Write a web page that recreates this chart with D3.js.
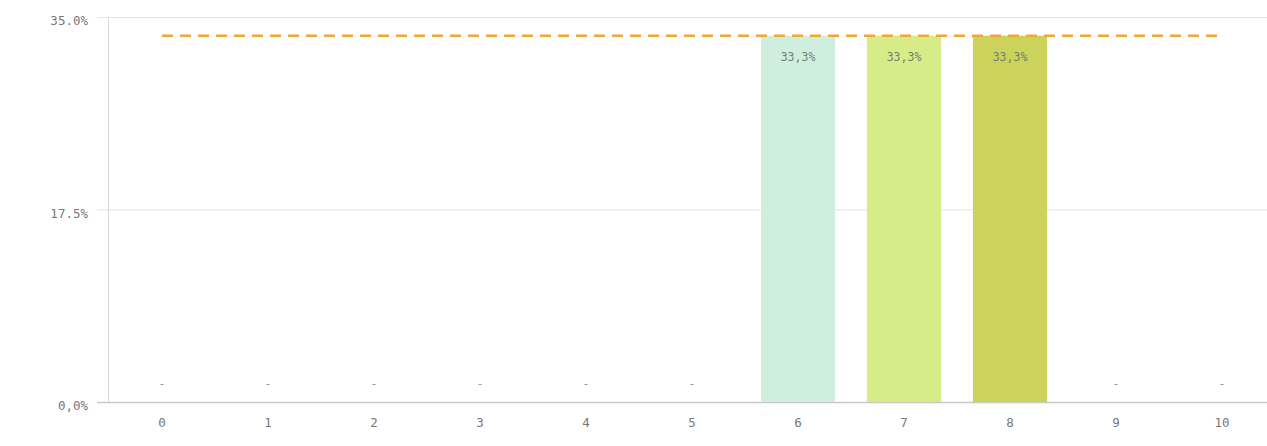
<!DOCTYPE html>
<html><head><meta charset="utf-8">
<script src="https://cdn.jsdelivr.net/npm/d3@7"></script>
<style>body{margin:0;background:#fff}svg{display:block}</style>
</head><body>
<svg id="c" width="1267" height="446"></svg>
<script>
const categories = ["0","1","2","3","4","5","6","7","8","9","10"];
const values = [0,0,0,0,0,0,33.3,33.3,33.3,0,0];
const barColors = ["#cfeedd","#cfeedd","#cfeedd","#cfeedd","#cfeedd","#cfeedd","#cfeedd","#d5ec88","#cbd35b","#cbd35b","#cbd35b"];
const yTicks = [0, 17.5, 35];
const yTickLabels = ["0,0%","17.5%","35.0%"];
const refValue = 33.3;

const svg = d3.select("#c");
const m = {l:109, r:-8, t:17, b:44};
const W = 1267, H = 446;
const x = d3.scaleBand().domain(categories).range([m.l, W - m.r]).paddingInner(0.3).paddingOuter(0.15);
const y = d3.scaleLinear().domain([0,35]).range([H - m.b, m.t]);
const font = "'DejaVu Sans Mono', monospace";

// gridlines
svg.append("g").selectAll("line").data(yTicks).join("line")
  .attr("x1", 97).attr("x2", W).attr("y1", d=>y(d)+0.5).attr("y2", d=>y(d)+0.5)
  .attr("stroke", d=> d===0 ? "#c8c8c8" : "#e3e3e3").attr("stroke-width", d=> d===0?1.5:1);
// y axis line
svg.append("line").attr("x1", 108.5).attr("x2", 108.5).attr("y1", m.t).attr("y2", y(0))
  .attr("stroke","#d6d6d6");
// y labels
svg.append("g").selectAll("text").data(yTicks).join("text")
  .attr("x", 88).attr("y", d=>y(d)+8).attr("text-anchor","end")
  .attr("font-family", font).attr("font-size", 12.5).attr("fill","#777")
  .text((d,i)=>yTickLabels[i]);
// x labels
svg.append("g").selectAll("text").data(categories).join("text")
  .attr("x", d=>x(d)+x.bandwidth()/2).attr("y", 427).attr("text-anchor","middle")
  .attr("font-family", font).attr("font-size", 12.5).attr("fill","#777")
  .text(d=>d);
// bars
const data = categories.map((c,i)=>({c, v: values[i], col: barColors[i]}));
svg.append("g").selectAll("rect").data(data.filter(d=>d.v>0)).join("rect")
  .attr("x", d=>x(d.c)).attr("width", x.bandwidth())
  .attr("y", d=>y(d.v)).attr("height", d=>y(0)-y(d.v))
  .attr("fill", d=>d.col);
// bar labels
svg.append("g").selectAll("text").data(data).join("text")
  .attr("x", d=>x(d.c)+x.bandwidth()/2)
  .attr("y", d=> d.v>0 ? y(d.v)+25 : y(0)-14)
  .attr("text-anchor","middle").attr("font-family", font).attr("font-size", 11.5)
  .attr("fill", d=> d.v>0 ? "#6f7f76" : "#9a9a9a")
  .text(d=> d.v>0 ? d.v.toFixed(1).replace(".",",")+"%" : "-");
// reference line
svg.append("line")
  .attr("x1", x(categories[0])+x.bandwidth()/2)
  .attr("x2", x(categories[categories.length-1])+x.bandwidth()/2)
  .attr("y1", y(refValue)).attr("y2", y(refValue))
  .attr("stroke","#f0a835").attr("stroke-width",2.5).attr("stroke-dasharray","11,7");
</script>
</body></html>
